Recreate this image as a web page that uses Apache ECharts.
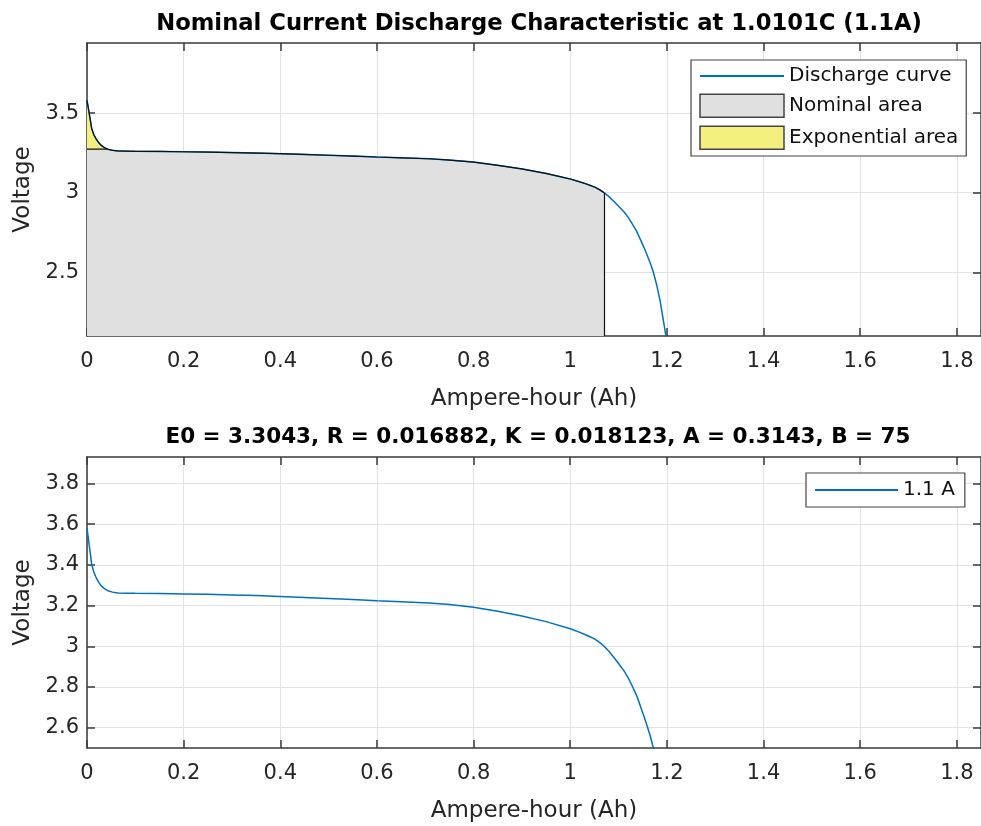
<!DOCTYPE html>
<html>
<head>
<meta charset="utf-8">
<title>Nominal Current Discharge Characteristic</title>
<script src="https://cdn.jsdelivr.net/npm/echarts@6/dist/echarts.min.js"></script>
<style>
	html, body { margin: 0; padding: 0; background: #fff; }
	#chart { width: 981px; height: 826px; }
</style>
</head>
<body>
<div id="chart"></div>
<script>
// discharge curve (Ah, Volt)
var capacityAh = [0, 0.0025, 0.005, 0.0075, 0.0095, 0.014, 0.0185, 0.024, 0.029, 0.036, 0.043, 0.053, 0.064, 0.08,
	0.1, 0.15, 0.2, 0.25, 0.3, 0.35, 0.4, 0.45, 0.5, 0.55, 0.6, 0.65, 0.708, 0.75, 0.8, 0.85, 0.9, 0.95,
	1.0, 1.02, 1.035, 1.05, 1.06, 1.07, 1.08, 1.09, 1.1, 1.111, 1.12, 1.128, 1.137, 1.145, 1.152, 1.159, 1.166,
	1.172, 1.179, 1.186, 1.192, 1.198, 1.203];
var voltage = [3.58, 3.535, 3.49, 3.445, 3.405, 3.365, 3.34, 3.315, 3.298, 3.283, 3.273, 3.266, 3.262, 3.261,
	3.260, 3.259, 3.257, 3.255, 3.252, 3.249, 3.245, 3.240, 3.235, 3.230, 3.224, 3.219, 3.213, 3.205, 3.192, 3.172, 3.149, 3.121,
	3.086, 3.068, 3.053, 3.036, 3.02, 3.0, 2.975, 2.946, 2.915, 2.88, 2.845, 2.806, 2.76, 2.707, 2.66, 2.609, 2.555,
	2.50, 2.42, 2.32, 2.21, 2.10, 2.0];

// ends of the exponential and nominal zones
var expEndAh = 0.043;
var expEndV = 3.273;
var nomEndAh = 1.07;
var nomEndV = 3.0;

var xTicks = [0, 0.2, 0.4, 0.6, 0.8, 1, 1.2, 1.4, 1.6, 1.8];
var yTicksTop = [2.5, 3, 3.5];
var yTicksBottom = [2.6, 2.8, 3, 3.2, 3.4, 3.6, 3.8];

var titleTop = 'Nominal Current Discharge Characteristic at 1.0101C (1.1A)';
var titleBottom = 'E0 = 3.3043, R = 0.016882, K = 0.018123, A = 0.3143, B = 75';

(function() {
	var myChart = echarts.init(document.getElementById('chart'));
	var font = 'DejaVu Sans, Liberation Sans, sans-serif';
	var axisColor = '#3a3a3a';
	var textColor = '#262626';
	var topMin = 2.1;

	var curve = [];
	var expArea = [];
	var nomArea = [[0, expEndV]];
	for (var i = 0; i < capacityAh.length; i++) {
		curve.push([capacityAh[i], voltage[i]]);
		if (capacityAh[i] <= expEndAh) expArea.push([capacityAh[i], voltage[i]]);
		if (capacityAh[i] >= expEndAh && capacityAh[i] <= nomEndAh) nomArea.push([capacityAh[i], voltage[i]]);
	}

	// axes: bottom/left with labels, top/right only ticks (box on)
	function xAx(grid, pos, show) {
		return {
			type: 'value', gridIndex: grid, position: pos, min: 0, max: 1.85,
			name: show ? 'Ampere-hour (Ah)' : '', nameLocation: 'middle', nameGap: 52,
			nameTextStyle: { fontSize: 23, color: textColor, fontFamily: font },
			axisLine: { show: true, onZero: false, lineStyle: { color: axisColor, width: 1.5 } },
			axisTick: { show: true, inside: true, length: 8, customValues: xTicks, lineStyle: { color: axisColor, width: 1.5 } },
			axisLabel: { show: show, customValues: xTicks, fontSize: 21, color: textColor, fontFamily: font, margin: 15 },
			splitLine: { show: show, lineStyle: { color: '#e3e3e3', width: 1 } }
		};
	}
	function yAx(grid, pos, show, min, max, ticks) {
		return {
			type: 'value', gridIndex: grid, position: pos, min: min, max: max,
			name: show ? 'Voltage' : '', nameLocation: 'middle', nameGap: 51,
			nameTextStyle: { fontSize: 23, color: textColor, fontFamily: font },
			axisLine: { show: true, onZero: false, lineStyle: { color: axisColor, width: 1.5 } },
			axisTick: { show: true, inside: true, length: 8, customValues: ticks, lineStyle: { color: axisColor, width: 1.5 } },
			axisLabel: { show: show, customValues: ticks, fontSize: 21, color: textColor, fontFamily: font, margin: 8 },
			splitLine: { show: show, lineStyle: { color: '#e3e3e3', width: 1 } }
		};
	}

	var option = {
		backgroundColor: '#fff',
		animation: false,
		title: [{
			text: titleTop, left: 534, top: 8, textAlign: 'center',
			textStyle: { fontSize: 22.7, fontWeight: 'bold', color: '#000', fontFamily: font }
		}, {
			text: titleBottom, left: 533, top: 421, textAlign: 'center',
			textStyle: { fontSize: 21.5, fontWeight: 'bold', color: '#000', fontFamily: font }
		}],
		grid: [
			{ left: 87, top: 43, width: 896, height: 293 },
			{ left: 87, top: 457, width: 896, height: 291 }
		],
		xAxis: [xAx(0, 'bottom', true), xAx(0, 'top', false), xAx(1, 'bottom', true), xAx(1, 'top', false)],
		yAxis: [
			yAx(0, 'left', true, topMin, 3.94, yTicksTop), yAx(0, 'right', false, topMin, 3.94, yTicksTop),
			yAx(1, 'left', true, 2.5, 3.93, yTicksBottom), yAx(1, 'right', false, 2.5, 3.93, yTicksBottom)
		],
		legend: [{
			orient: 'vertical', left: 691, top: 60,
			itemWidth: 84, itemHeight: 23, itemGap: 7.5,
			padding: [6, 8, 6, 8],
			backgroundColor: '#fff', borderColor: '#444', borderWidth: 1.2,
			textStyle: { fontSize: 20, color: '#111', fontFamily: font },
			data: [
				{ name: 'Discharge curve', itemStyle: { opacity: 0 } },
				{ name: 'Nominal area', icon: 'rect', itemStyle: { color: '#e0e0e0', borderColor: '#444', borderWidth: 1.5 } },
				{ name: 'Exponential area', icon: 'rect', itemStyle: { color: '#f4f080', borderColor: '#444', borderWidth: 1.5 } }
			]
		}, {
			orient: 'vertical', left: 806, top: 473,
			itemWidth: 83, itemHeight: 23,
			padding: [7, 10, 7, 8],
			backgroundColor: '#fff', borderColor: '#444', borderWidth: 1.2,
			textStyle: { fontSize: 20, color: '#111', fontFamily: font },
			data: [{ name: '1.1 A', itemStyle: { opacity: 0 } }]
		}],
		series: [{
			name: 'Discharge curve', type: 'line', xAxisIndex: 0, yAxisIndex: 0,
			symbol: 'none', data: curve,
			lineStyle: { color: '#0072bd', width: 1.5 }, itemStyle: { color: '#0072bd' }
		}, {
			name: 'Nominal area', type: 'line', xAxisIndex: 0, yAxisIndex: 0,
			symbol: 'none', data: nomArea,
			lineStyle: { color: '#111', width: 1.2 }, itemStyle: { color: '#e0e0e0' },
			areaStyle: { color: '#e0e0e0', opacity: 1, origin: 'start' },
			markLine: {
				silent: true, symbol: 'none', label: { show: false },
				lineStyle: { color: '#111', width: 1.2, type: 'solid' },
				data: [[{ coord: [nomEndAh, topMin] }, { coord: [nomEndAh, nomEndV] }]]
			}
		}, {
			name: 'Exponential area', type: 'line', xAxisIndex: 0, yAxisIndex: 0,
			symbol: 'none', data: expArea,
			lineStyle: { color: '#111', width: 1.2 }, itemStyle: { color: '#f4f080' },
			areaStyle: { color: '#f4f080', opacity: 1, origin: expEndV }
		}, {
			name: '1.1 A', type: 'line', xAxisIndex: 2, yAxisIndex: 2,
			symbol: 'none', data: curve,
			lineStyle: { color: '#0072bd', width: 1.5 }, itemStyle: { color: '#0072bd' }
		}]
	};
	myChart.setOption(option);
})();
</script>
</body>
</html>
